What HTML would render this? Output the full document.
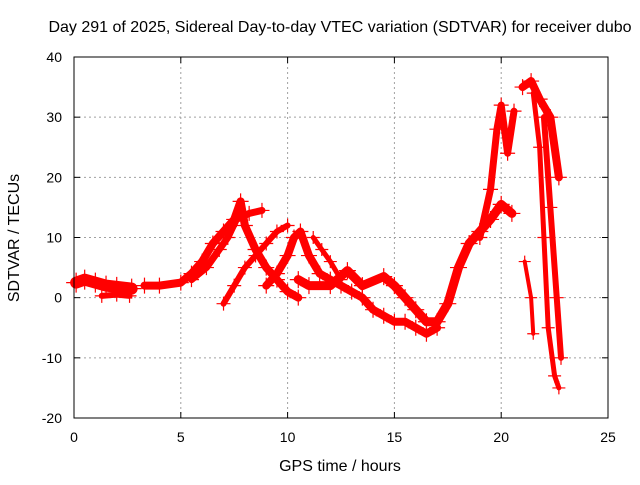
<!DOCTYPE html>
<html><head><meta charset="utf-8"><style>
body{margin:0;background:#fff}
svg text{font-family:"Liberation Sans",sans-serif;font-size:14px;fill:#000}
svg text.big{font-size:16px}
</style></head><body>
<svg width="640" height="480">
<rect width="640" height="480" fill="#fff"/>
<g id="grid"></g>
<g id="series"></g>
<rect x="74" y="57" width="534" height="361" fill="none" stroke="#000" stroke-width="1"/>
<g id="ticks"></g>
<text class="big" x="340" y="32" text-anchor="middle">Day 291 of 2025, Sidereal Day-to-day VTEC variation (SDTVAR) for receiver dubo</text>
<text class="big" x="340" y="471" text-anchor="middle">GPS time / hours</text>
<text class="big" x="19" y="238" text-anchor="middle" transform="rotate(-90 19 238)">SDTVAR / TECUs</text>
</svg>
<script>
const xTicks=[0,5,10,15,20,25];
const yTicks=[-20,-10,0,10,20,30,40];
const trackA=[[0.1,2.5],[0.5,3],[1,2.5],[1.5,2],[2,1.8],[2.7,1.5]];
const trackA2=[[1.3,0.3],[2,0.5],[2.6,0.3]];
const trackB=[[3.3,2],[4,2],[5,2.5],[5.5,4],[6,6],[6.5,9],[7,11],[7.5,13],[7.8,16],[8,12],[8.5,8],[9,5],[9.5,3],[10,1],[10.5,0]];
const trackC=[[5.5,3],[6.2,5],[6.8,8],[7.2,10],[7.6,13],[8.2,14],[8.8,14.5]];
const trackD=[[7,-1],[7.5,2],[8,5],[8.5,7],[9,9],[9.5,11],[10,12]];
const trackE=[[9,2],[9.5,4],[10,7],[10.3,10],[10.6,11],[11,7],[11.5,4],[12,3],[12.5,2],[13,1],[13.5,0],[14,-2],[14.5,-3],[15,-4],[15.5,-4],[16,-5],[16.5,-6],[17,-5]];
const trackF=[[10.5,3],[11,2],[12,2],[12.8,4.5],[13.5,2],[14.5,3.5],[15,2],[15.5,0],[16,-2],[16.5,-4],[17,-4],[17.5,-1],[18,5],[18.5,9],[19,11],[19.5,13],[20,15.5],[20.5,14]];
const trackM=[[11.2,10],[11.6,8],[12,6],[12.5,3]];
const trackG=[[19,10],[19.5,18],[19.8,28],[20,32],[20.3,24],[20.6,31]];
const trackH=[[21,35],[21.4,36],[21.8,33],[22.3,30],[22.7,20]];
const trackI=[[21.5,34],[21.8,25],[22,10],[22.2,-5],[22.5,-13],[22.7,-15]];
const trackJ=[[22,30],[22.3,15],[22.6,0],[22.8,-10]];
const trackK=[[21.1,6],[21.4,0],[21.5,-6]];
const tracks=[[trackA,12],[trackA2,6],[trackB,8],[trackC,7],[trackD,6],[trackE,8],[trackF,9],[trackM,5],[trackG,7],[trackH,8],[trackI,5],[trackJ,6],[trackK,4]];
const NS="http://www.w3.org/2000/svg";
const X=h=>74+h*534/25, Y=v=>57+(40-v)*361/60;
const grid=document.getElementById('grid'),ticks=document.getElementById('ticks'),ser=document.getElementById('series');
function mk(t,a,p){const e=document.createElementNS(NS,t);for(const k in a)e.setAttribute(k,a[k]);p.appendChild(e);return e;}
xTicks.forEach(t=>{const x=X(t);
 if(t>0&&t<25){const g=mk('line',{x1:x,x2:x,y1:57,y2:418,stroke:'#a0a0a0','stroke-dasharray':'2,3'},grid);
 
 }
 mk('line',{x1:x,x2:x,y1:418,y2:412,stroke:'#000'},ticks);mk('line',{x1:x,x2:x,y1:57,y2:63,stroke:'#000'},ticks);
 const l=mk('text',{x:x,y:442,'text-anchor':'middle'},ticks);l.textContent=t;
 
 });
yTicks.forEach(t=>{const y=Y(t);
 if(t>-20&&t<40){const g=mk('line',{x1:74,x2:608,y1:y,y2:y,stroke:'#a0a0a0','stroke-dasharray':'2,3'},grid);
 
 }
 mk('line',{x1:74,x2:80,y1:y,y2:y,stroke:'#000'},ticks);mk('line',{x1:608,x2:602,y1:y,y2:y,stroke:'#000'},ticks);
 const l=mk('text',{x:62,y:y+5,'text-anchor':'end'},ticks);l.textContent=t;
 
 });
tracks.forEach(([pts,w])=>{
 const p=mk('polyline',{points:pts.map(q=>X(q[0])+','+Y(q[1])).join(' '),fill:'none',stroke:'#f00','stroke-width':w,'stroke-linejoin':'round','stroke-linecap':'round'},ser);
 
 
 pts.forEach(q=>{const x=X(q[0]),y=Y(q[1]);
  const m=mk('path',{d:`M${x-w/2-4},${y}h${w+8}M${x},${y-w/2-4}v${w+8}`,stroke:'#f00','stroke-width':1.2},ser);
  
  });
});
</script>
</body></html>
